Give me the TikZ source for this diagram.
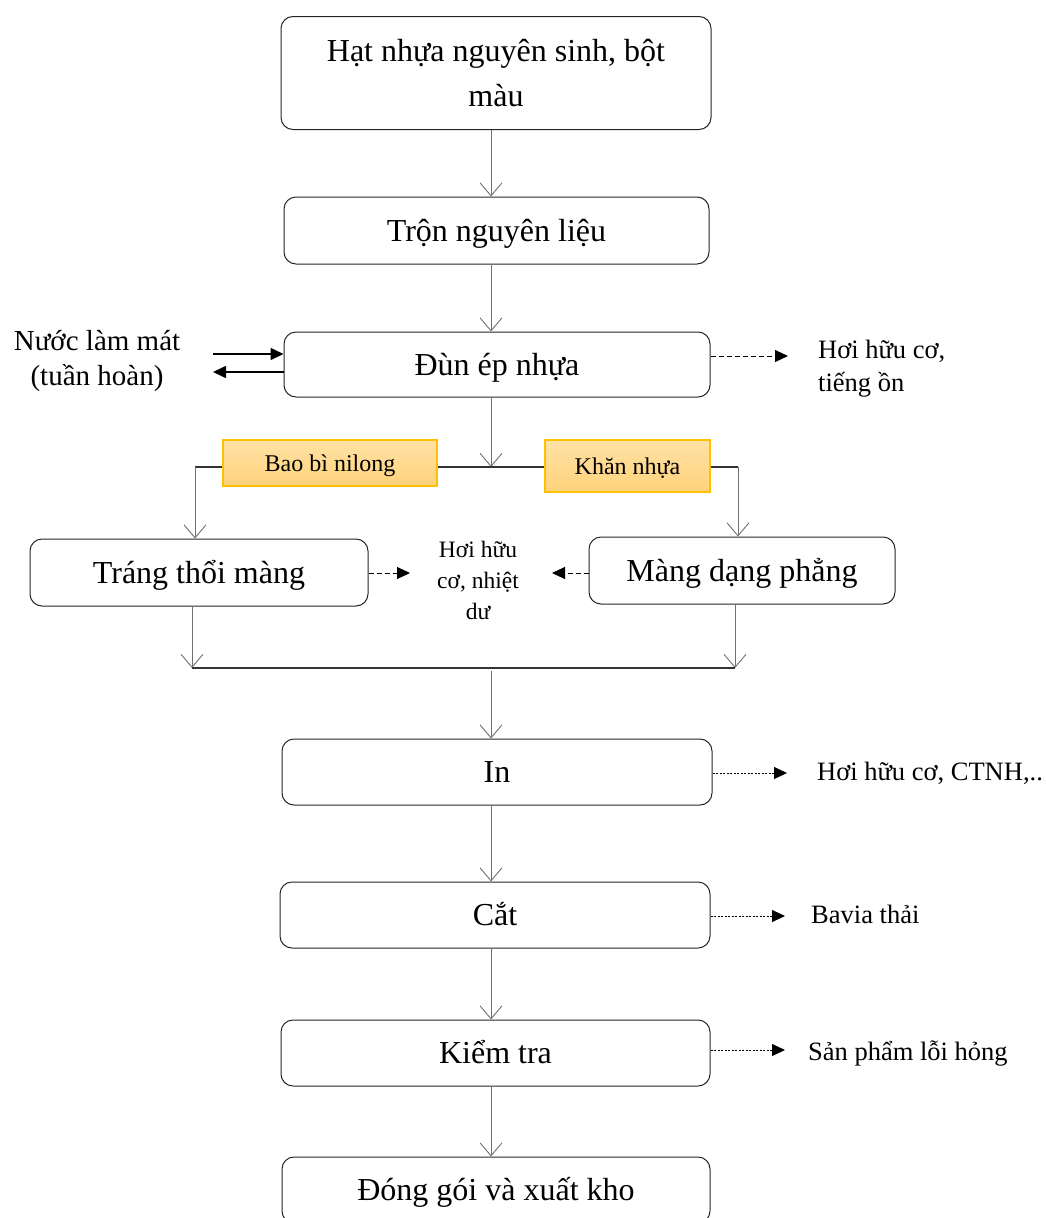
\documentclass[tikz,border=0pt]{standalone}
\usepackage{fontspec}
\setmainfont{Liberation Serif}
\usetikzlibrary{arrows.meta}
\definecolor{tagtop}{HTML}{FFE2A6}
\definecolor{tagbottom}{HTML}{FFD27A}
\definecolor{tagline}{HTML}{FFC000}
\definecolor{linkgray}{HTML}{707070}
\begin{document}
\begin{tikzpicture}[x=1pt,y=-1pt,
  box/.style={draw=black!85, line width=1pt, rounded corners=12pt, inner sep=0pt,
    align=center, font=\fontsize{32}{45}\selectfont},
  oneline/.style={text height=27pt, text depth=6pt},
  tag/.style={draw=tagline, top color=tagtop, bottom color=tagbottom, line width=1.3pt, inner sep=0pt,
    text height=21pt, text depth=4pt, font=\fontsize{24}{26}\selectfont},
  note/.style={inner sep=0pt, align=left, font=\fontsize{26.5}{33}\selectfont},
  flow/.style={draw=linkgray, line width=0.9pt, -{Straight Barb[length=13pt,width=22pt,line width=0.9pt]}},
  bar/.style={draw=black!80, line width=1.8pt},
  emit/.style={draw=black, line width=1pt, dash pattern=on 5pt off 3pt, -{Triangle[length=13pt,width=12pt]}},
  emitdot/.style={draw=black, line width=0.8pt, dash pattern=on 2pt off 1.5pt, -{Triangle[length=13pt,width=12pt]}},
  water/.style={draw=black, line width=1.6pt, -{Triangle[length=13pt,width=12pt]}}
]
\useasboundingbox (0,0) rectangle (1045,1218);

% main process boxes
\node[box, minimum width=430pt, minimum height=113pt] (raw) at (496,73) {Hạt nhựa nguyên sinh, bột\\màu};
\node[box, oneline, minimum width=425pt, minimum height=67pt] (mix) at (496.5,230.5) {Trộn nguyên liệu};
\node[box, oneline, minimum width=426pt, minimum height=65pt] (ext) at (497,364.5) {Đùn ép nhựa};
\node[box, oneline, minimum width=338pt, minimum height=67pt] (blow) at (199,572.5) {Tráng thổi màng};
\node[box, oneline, minimum width=306pt, minimum height=67pt] (flat) at (742,570.5) {Màng dạng phẳng};
\node[box, oneline, minimum width=430pt, minimum height=66pt] (print) at (497,772) {In};
\node[box, oneline, minimum width=430pt, minimum height=66pt] (cut) at (495,915) {Cắt};
\node[box, oneline, minimum width=429pt, minimum height=66pt] (check) at (495.5,1053) {Kiểm tra};
\node[box, oneline, minimum width=428pt, minimum height=66pt] (pack) at (496,1190) {Đóng gói và xuất kho};

% product labels on the split line
\node[tag, minimum width=214pt, minimum height=46pt] (bag) at (330,463) {Bao bì nilong};
\node[tag, minimum width=165pt, minimum height=52pt] (towel) at (627.5,466) {Khăn nhựa};

% side notes
\node[inner sep=0pt, align=center, font=\fontsize{29}{35}\selectfont] (water) at (97,361) {Nước làm mát\\(tuần hoàn)};
\node[note, anchor=west] (gas1) at (818,369) {Hơi hữu cơ,\\tiếng ồn};
\node[inner sep=0pt, align=center, font=\fontsize{23.5}{31}\selectfont] (gas2) at (478,580) {Hơi hữu\\cơ, nhiệt\\dư};
\node[note, anchor=west] (gas3) at (817,773) {Hơi hữu cơ, CTNH,..};
\node[note, anchor=west] (scrap) at (811,914) {Bavia thải};
\node[note, anchor=west] (reject) at (808,1054) {Sản phẩm lỗi hỏng};

% junction points
\coordinate (splitL) at (195,467);
\coordinate (splitC) at (491,467);
\coordinate (splitR) at (738,467);
\coordinate (mergeL) at (192,668);
\coordinate (mergeR) at (735,668);
\coordinate (mergeC) at (491,671);

% main flow
\draw[flow] (raw.south -| 491,0) -- (mix.north -| 491,0);
\draw[flow] (mix.south -| 491,0) -- (ext.north -| 491,0);
\draw[flow] (ext.south -| splitC) -- (splitC);
\draw[bar] (splitL) -- (bag.west |- splitL);
\draw[bar] (bag.east |- splitC) -- (towel.west |- splitC);
\draw[bar] (towel.east |- splitR) -- (splitR);
\draw[flow] (splitL) -- (blow.north -| splitL);
\draw[flow] (splitR) -- (flat.north -| splitR);
\draw[flow] (blow.south -| mergeL) -- (mergeL);
\draw[flow] (flat.south -| mergeR) -- (mergeR);
\draw[bar] (mergeL) -- (mergeR);
\draw[flow] (mergeC) -- (print.north -| mergeC);
\draw[flow] (print.south -| 491,0) -- (cut.north -| 491,0);
\draw[flow] (cut.south -| 491,0) -- (check.north -| 491,0);
\draw[flow] (check.south -| 491,0) -- (pack.north -| 491,0);

% cooling water loop
\draw[water] (213,354) -- (ext.west |- 0,354);
\draw[water] (ext.west |- 0,372) -- (213,372);

% emissions and waste
\draw[emit] (ext.east |- 0,356) -- (788,356);
\draw[emit] (blow.east |- 0,573) -- (410,573);
\draw[emit] (flat.west |- 0,573) -- (552,573);
\draw[emitdot] (print.east |- 0,773) -- (787,773);
\draw[emitdot] (cut.east |- 0,916) -- (785,916);
\draw[emitdot] (check.east |- 0,1050) -- (785,1050);
\end{tikzpicture}
\end{document}
